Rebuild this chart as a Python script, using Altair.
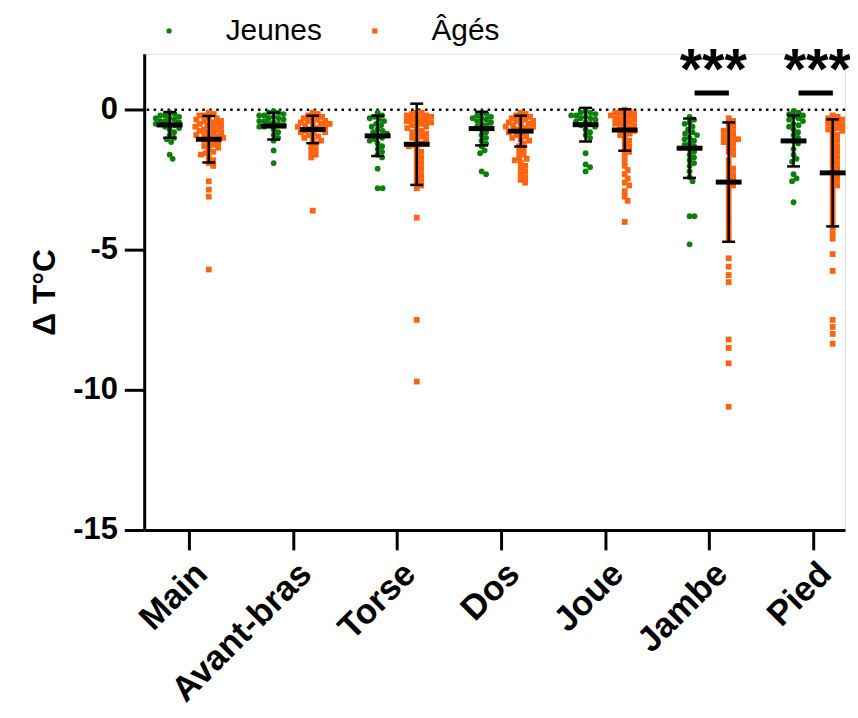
import math
import altair as alt
import pandas as pd

# ---------------- data ----------------
categories = ["Main", "Avant-bras", "Torse", "Dos", "Joue", "Jambe", "Pied"]
groups = ["Jeunes", "Âgés"]

jeunes_main = [-0.1, -0.15, -0.2, -0.2, -0.25, -0.3, -0.3, -0.35, -0.4, -0.4, -0.45, -0.5,
               -0.5, -0.55, -0.6, -0.65, -0.7, -0.8, -0.9, -1.0, -1.05, -1.15, -1.6, -1.75]
ages_main = [-0.1, -0.15, -0.2, -0.2, -0.3, -0.3, -0.35, -0.4, -0.4, -0.45, -0.5, -0.5, -0.55,
             -0.6, -0.6, -0.65, -0.7, -0.7, -0.75, -0.8, -0.8, -0.85, -0.9, -0.9, -0.95, -1.0,
             -1.0, -1.05, -1.1, -1.15, -1.2, -1.25, -1.3, -1.35, -1.4, -1.5, -1.55, -1.6, -1.7,
             -1.8, -1.9, -2.0, -2.55, -2.85, -3.1, -5.7]

jeunes_avant_bras = [-0.05, -0.1, -0.1, -0.15, -0.2, -0.2, -0.25, -0.3, -0.3, -0.35, -0.4, -0.4,
                     -0.45, -0.5, -0.5, -0.55, -0.6, -0.6, -0.7, -0.8, -0.9, -1.0, -1.1, -1.45, -1.9]
ages_avant_bras = [-0.1, -0.15, -0.2, -0.25, -0.3, -0.3, -0.35, -0.4, -0.4, -0.45, -0.5, -0.5,
                   -0.5, -0.55, -0.6, -0.6, -0.65, -0.7, -0.7, -0.75, -0.8, -0.8, -0.85, -0.9,
                   -0.95, -1.0, -1.05, -1.1, -1.2, -1.3, -1.4, -1.5, -1.6, -1.7, -3.6]

jeunes_torse = [-0.1, -0.2, -0.25, -0.3, -0.35, -0.4, -0.5, -0.55, -0.6, -0.7, -0.75, -0.8, -0.85,
                -0.9, -1.0, -1.05, -1.1, -1.2, -1.3, -1.4, -1.5, -1.6, -1.7, -2.1, -2.8, -2.8]
ages_torse = [-0.1, -0.1, -0.15, -0.2, -0.2, -0.25, -0.3, -0.3, -0.35, -0.4, -0.4, -0.45, -0.5,
              -0.5, -0.55, -0.6, -0.65, -0.7, -0.75, -0.8, -0.85, -0.9, -0.95, -1.0, -1.05, -1.1,
              -1.2, -1.25, -1.3, -1.4, -1.5, -1.6, -1.7, -1.8, -1.9, -2.0, -2.1, -2.2, -2.3, -2.4,
              -2.5, -2.6, -2.7, -2.8, -3.85, -7.5, -9.7]

jeunes_dos = [-0.1, -0.15, -0.2, -0.25, -0.3, -0.3, -0.35, -0.4, -0.45, -0.5, -0.55, -0.6, -0.65,
              -0.7, -0.8, -0.9, -1.0, -1.1, -1.2, -1.3, -1.45, -1.55, -2.2, -2.3]
ages_dos = [-0.1, -0.15, -0.2, -0.25, -0.3, -0.3, -0.35, -0.4, -0.4, -0.45, -0.5, -0.5, -0.55,
            -0.6, -0.6, -0.65, -0.7, -0.7, -0.75, -0.8, -0.85, -0.9, -0.95, -1.0, -1.05, -1.1,
            -1.2, -1.3, -1.4, -1.5, -1.6, -1.7, -1.75, -1.8, -1.9, -2.0, -2.1, -2.2, -2.3, -2.4,
            -2.5, -2.6]

jeunes_joue = [-0.05, -0.1, -0.1, -0.15, -0.2, -0.2, -0.25, -0.3, -0.3, -0.35, -0.4, -0.45, -0.5,
               -0.55, -0.6, -0.7, -0.8, -0.9, -1.0, -1.55, -1.95, -2.05, -2.2]
ages_joue = [0.0, -0.05, -0.1, -0.1, -0.15, -0.2, -0.2, -0.25, -0.3, -0.3, -0.35, -0.4, -0.45,
             -0.5, -0.5, -0.55, -0.6, -0.65, -0.7, -0.75, -0.8, -0.85, -0.9, -1.0, -1.1, -1.2,
             -1.3, -1.4, -1.5, -1.6, -1.8, -2.0, -2.15, -2.3, -2.45, -2.6, -2.7, -2.9, -3.1,
             -3.25, -4.0]

jeunes_jambe = [-0.25, -0.35, -0.45, -0.5, -0.6, -0.7, -0.8, -0.85, -0.9, -1.0, -1.05, -1.1, -1.2,
                -1.25, -1.3, -1.4, -1.5, -1.6, -1.7, -1.8, -1.9, -2.0, -2.2, -2.4, -2.55, -3.8,
                -3.8, -4.8]
ages_jambe = [-0.3, -0.4, -0.5, -0.6, -0.7, -0.75, -0.8, -0.9, -0.95, -1.0, -1.05, -1.1, -1.15,
              -1.2, -1.3, -1.4, -1.5, -1.6, -1.8, -2.0, -2.1, -2.2, -2.3, -2.4, -2.5, -2.6, -2.7,
              -2.8, -3.0, -3.2, -3.4, -3.6, -3.8, -4.0, -4.2, -4.4, -4.6, -5.3, -5.6, -5.9,
              -6.15, -8.2, -8.5, -9.05, -10.6]

jeunes_pied = [-0.05, -0.1, -0.15, -0.2, -0.25, -0.3, -0.35, -0.4, -0.5, -0.55, -0.6, -0.7, -0.8,
               -0.9, -1.0, -1.1, -1.2, -1.4, -1.6, -1.75, -1.85, -2.3, -2.45, -2.55, -3.3]
ages_pied = [-0.2, -0.25, -0.3, -0.35, -0.4, -0.45, -0.5, -0.55, -0.6, -0.65, -0.7, -0.75, -0.8,
             -0.9, -1.0, -1.1, -1.2, -1.3, -1.4, -1.5, -1.6, -1.7, -1.8, -1.9, -2.0, -2.1, -2.2,
             -2.3, -2.4, -2.5, -2.6, -2.7, -2.8, -3.0, -3.2, -3.4, -3.6, -3.8, -4.0, -4.2, -4.4,
             -4.6, -5.15, -5.75, -7.5, -7.75, -8.0, -8.35]

# mean and SD
jeunes_mean = [-0.54, -0.58, -0.93, -0.67, -0.53, -1.37, -1.11]
jeunes_sd = [0.46, 0.48, 0.72, 0.60, 0.60, 1.06, 0.91]
ages_mean = [-1.05, -0.70, -1.23, -0.76, -0.72, -2.58, -2.25]
ages_sd = [0.83, 0.49, 1.45, 0.55, 0.74, 2.13, 1.91]

signif_categories = ["Jambe", "Pied"]
signif_labels = ["***", "***"]
signif_level = 0.6
y_ticks = [0, -5, -10, -15]

# ---------------- layout ----------------
PLOT_W, PLOT_H = 705, 479
X_DOMAIN = [-0.433, 6.307]
Y_DOMAIN = [-15, 2]
PX_X = PLOT_W / (X_DOMAIN[1] - X_DOMAIN[0])
PX_Y = PLOT_H / (Y_DOMAIN[1] - Y_DOMAIN[0])
GROUP_OFF = 0.188
DOT = 5.0
FONT = "Liberation Sans"
GREEN = "#0a800a"
ORANGE = "#ff6410"

jeunes_series = [jeunes_main, jeunes_avant_bras, jeunes_torse, jeunes_dos, jeunes_joue,
                 jeunes_jambe, jeunes_pied]
ages_series = [ages_main, ages_avant_bras, ages_torse, ages_dos, ages_joue, ages_jambe, ages_pied]


def swarm(values):
    """Beeswarm offsets in pixels so that dots do not overlap too much."""
    placed = []
    out = []
    for v in sorted(values, reverse=True):
        py = -v * PX_Y
        best = None
        for k in range(0, 200):
            for sgn in ((1,) if k == 0 else (1, -1)):
                dx = sgn * k * 0.5
                if all((dx - qx) ** 2 + (py - qy) ** 2 >= DOT ** 2 for qx, qy in placed):
                    best = dx
                    break
            if best is not None:
                break
        placed.append((best, py))
        out.append((best, v))
    return out


rows = []
stats = []
for i, cat in enumerate(categories):
    for g, series, means, sds, off in (
        ("Jeunes", jeunes_series, jeunes_mean, jeunes_sd, -GROUP_OFF),
        ("Âgés", ages_series, ages_mean, ages_sd, GROUP_OFF),
    ):
        xc = i + off
        for dx, v in swarm(series[i]):
            rows.append({"x": xc + dx / PX_X, "value": v, "group": g, "category": cat})
        m, s = means[i], sds[i]
        stats.append({
            "xc": xc, "mean": m, "lo": m - s, "hi": m + s,
            "m_l": xc - 13 / PX_X, "m_r": xc + 13 / PX_X,
            "c_l": xc - 6.5 / PX_X, "c_r": xc + 6.5 / PX_X,
        })

points_df = pd.DataFrame(rows)
stats_df = pd.DataFrame(stats)

sig_rows = []
for cat, lab in zip(signif_categories, signif_labels):
    i = categories.index(cat)
    sig_rows.append({"x1": i - 0.14, "x2": i + 0.19, "xt": i + 0.04, "y": signif_level, "label": lab})
sig_df = pd.DataFrame(sig_rows)

label_expr = "[" + ",".join("'" + c + "'" for c in categories) + "][datum.value]"

x_scale = alt.Scale(domain=X_DOMAIN, nice=False, zero=False)
y_scale = alt.Scale(domain=Y_DOMAIN, nice=False, zero=False)

x_axis = alt.Axis(values=list(range(len(categories))), labelExpr=label_expr, title=None,
                  grid=False, labelAngle=315, labelAlign="right", labelBaseline="top",
                  labelFontSize=35, labelFont=FONT, labelFontWeight="bold", labelColor="black",
                  labelPadding=6, labelOverlap=False, labelLimit=500, tickSize=20, tickWidth=3,
                  tickColor="black", domainWidth=3, domainColor="black")
y_axis = alt.Axis(values=y_ticks, title="Δ T°C", grid=False, labelFontSize=31, labelFont=FONT,
                  labelExpr="datum.value == 0 ? '0' : '-' + abs(datum.value)",
                  labelFontWeight="bold", labelColor="black", labelPadding=7, tickSize=20,
                  tickWidth=3, tickColor="black", domainWidth=3, domainColor="black",
                  titleFontSize=32, titleFont=FONT, titleFontWeight="bold", titleColor="black",
                  titlePadding=11)

base_x = alt.X("x:Q", scale=x_scale, axis=x_axis)
base_y = alt.Y("value:Q", scale=y_scale, axis=y_axis)

zero_line = alt.Chart(pd.DataFrame({"value": [0]})).mark_rule(
    color="black", strokeWidth=2.5, strokeDash=[2.5, 4.5]
).encode(y=alt.Y("value:Q", scale=y_scale, axis=y_axis))

legend = alt.Legend(title=None, orient="none", direction="horizontal",
                    legendX=10, legendY=-38, labelFontSize=30, labelFont=FONT,
                    labelColor="black", symbolSize=28, labelOffset=42,
                    columnPadding=38, symbolStrokeWidth=0, padding=0)

pts = alt.Chart(points_df).mark_point(filled=True, opacity=1, size=34).encode(
    x=base_x,
    y=base_y,
    color=alt.Color("group:N", scale=alt.Scale(domain=groups, range=[GREEN, ORANGE]),
                    legend=legend),
    shape=alt.Shape("group:N", scale=alt.Scale(domain=groups, range=["circle", "square"]),
                    legend=legend),
)

sx = lambda f: alt.X(f, scale=x_scale, axis=x_axis)
sy = lambda f: alt.Y(f, scale=y_scale, axis=y_axis)

err = alt.Chart(stats_df).mark_rule(color="black", strokeWidth=2.5).encode(
    x=sx("xc:Q"), y=sy("lo:Q"), y2="hi:Q")
cap_lo = alt.Chart(stats_df).mark_rule(color="black", strokeWidth=2.5).encode(
    x=sx("c_l:Q"), x2="c_r:Q", y=sy("lo:Q"))
cap_hi = alt.Chart(stats_df).mark_rule(color="black", strokeWidth=2.5).encode(
    x=sx("c_l:Q"), x2="c_r:Q", y=sy("hi:Q"))
mean_bar = alt.Chart(stats_df).mark_rule(color="black", strokeWidth=5).encode(
    x=sx("m_l:Q"), x2="m_r:Q", y=sy("mean:Q"))

sig_bar = alt.Chart(sig_df).mark_rule(color="black", strokeWidth=5).encode(
    x=sx("x1:Q"), x2="x2:Q", y=sy("y:Q"))
sig_text = alt.Chart(sig_df).mark_text(
    font=FONT, fontSize=58, fontWeight="bold", color="black", baseline="alphabetic", dy=-4
).encode(x=sx("xt:Q"), y=sy("y:Q"), text="label:N")

chart = alt.layer(zero_line, pts, err, cap_lo, cap_hi, mean_bar, sig_bar, sig_text).properties(
    width=PLOT_W, height=PLOT_H,
    autosize=alt.AutoSizeParams(type="none"),
    padding={"left": 137, "top": 44, "right": 5, "bottom": 179},
).configure_view(stroke=None).configure(background="white")

chart.save("out.html", embed_options={"renderer": "svg", "actions": False})
